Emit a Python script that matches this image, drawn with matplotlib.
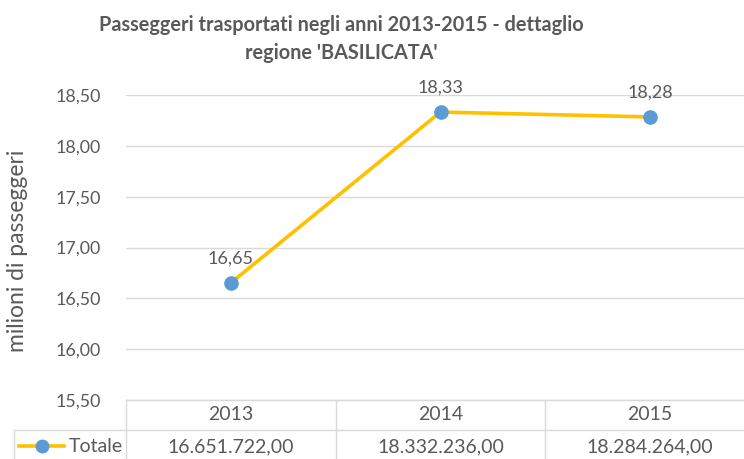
import matplotlib
matplotlib.use('Agg')
import matplotlib.pyplot as plt
from matplotlib import rcParams
from matplotlib.lines import Line2D
import matplotlib.transforms as mtransforms

rcParams['font.family'] = ['Lato', 'DejaVu Sans']
rcParams['font.size'] = 12.5

# data
anni = ['2013', '2014', '2015']
totale = [16651722.00, 18332236.00, 18284264.00]
serie = 'Totale'
y_ticks = [15.5, 16.0, 16.5, 17.0, 17.5, 18.0, 18.5]

TXT = '#595959'
GRID = '#D9D9D9'
GOLD = '#FFC000'
BLUE = '#5B9BD5'

W, H = 744, 459


def px(x, y):
    # pixel position (from top-left) to figure fraction
    return x / W, 1 - y / H


def it_num(v, nd=2):
    s = f'{v:,.{nd}f}'
    return s.replace(',', '#').replace('.', ',').replace('#', '.')


fig = plt.figure(figsize=(W / 100, H / 100), dpi=100)
ax = fig.add_axes([126 / W, 59 / H, 629 / W, 305 / H])

xs = list(range(len(anni)))
vals = [v / 1e6 for v in totale]
ax.plot(xs, vals, color=GOLD, lw=2.6, marker='o', ms=9.5,
        mfc=BLUE, mec=BLUE, solid_capstyle='round', zorder=3)
for x, v in zip(xs, vals):
    ax.annotate(it_num(v), (x, v), xytext=(0, 12), textcoords='offset points',
                ha='center', va='bottom', color=TXT, fontsize=13)

ax.set_xlim(-0.5, len(anni) - 0.5)
ax.set_ylim(y_ticks[0], y_ticks[-1])
ax.set_yticks(y_ticks)
ax.set_yticklabels([it_num(t) for t in y_ticks], color=TXT, fontsize=12.8)
ax.set_xticks([])
ax.tick_params(axis='y', length=0, pad=18)
ax.grid(axis='y', color=GRID, lw=1)
ax.set_axisbelow(True)
for s in ax.spines.values():
    s.set_visible(False)

# data table under the plot
trans = mtransforms.blended_transform_factory(ax.transData, ax.transAxes)
row_h = 30 / 305
left_key = -0.5 - 112 / 629 * len(anni)
ax.plot([-0.5, 2.6], [0, 0], color=GRID, lw=1, transform=trans, clip_on=False)
ax.plot([left_key, 2.6], [-row_h, -row_h], color=GRID, lw=1,
        transform=trans, clip_on=False)
ax.plot([left_key, left_key], [-row_h, -2.2 * row_h], color=GRID, lw=1,
        transform=trans, clip_on=False)
for xb in [-0.5] + [i + 0.5 for i in xs[:-1]]:
    ax.plot([xb, xb], [0, -2.2 * row_h], color=GRID, lw=1,
            transform=trans, clip_on=False)
for x, a, v in zip(xs, anni, totale):
    ax.text(x, -0.5 * row_h, a, ha='center', va='center', color=TXT,
            fontsize=14, transform=trans)
    ax.text(x, -1.55 * row_h, it_num(v), ha='center', va='center',
            color=TXT, fontsize=14, transform=trans)

# legend key inside the table
kx0, ky = px(19, 446)
kx1, _ = px(64, 446)
fig.add_artist(Line2D([kx0, kx1], [ky, ky], color=GOLD, lw=2.6))
fig.add_artist(Line2D([(kx0 + kx1) / 2], [ky], marker='o', ms=9,
                      mfc=BLUE, mec=BLUE, ls='none'))
fig.text(*px(69, 446), serie, ha='left', va='center', color=TXT,
         fontsize=14)

fig.text(*px(18, 251), 'milioni di passeggeri', rotation=90,
         ha='center', va='center', color=TXT, fontsize=16.5)
fig.text(*px(341, 39),
         "Passeggeri trasportati negli anni 2013-2015 - dettaglio\n"
         "regione 'BASILICATA'",
         ha='center', va='center', color=TXT, fontsize=14.3,
         fontweight='bold', linespacing=1.55)

fig.savefig('out.png', dpi=100)
